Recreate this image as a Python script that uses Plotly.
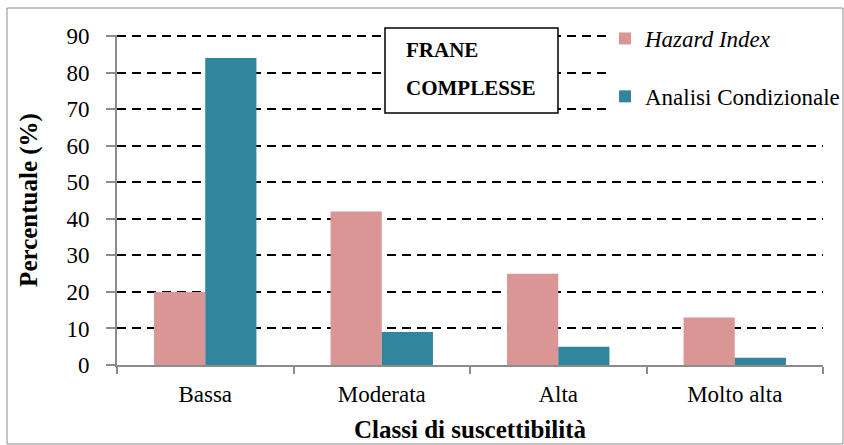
import plotly.graph_objects as go

classi = ["Bassa", "Moderata", "Alta", "Molto alta"]
hazard_index = [20, 42, 25, 13]
analisi_condizionale = [84, 9, 5, 2]
y_ticks = [0, 10, 20, 30, 40, 50, 60, 70, 80, 90]

W, H = 844, 445
L, R, T, B = 117, 21, 35, 80
PW, PH = W - L - R, H - T - B
Y_MAX = 90.3


def px_x(p):
    return (p - L) / PW


def px_y(p):
    return (H - B - p) / PH


serif = "Liberation Serif"

fig = go.Figure()
fig.add_trace(go.Bar(
    x=classi, y=hazard_index, name="<i>Hazard Index</i>",
    marker=dict(color="#D99694", line=dict(width=0)),
    legendgroup="a",
))
fig.add_trace(go.Bar(
    x=classi, y=analisi_condizionale, name="Analisi Condizionale",
    marker=dict(color="#31859C", line=dict(width=0)),
    legendgroup="b",
))

fig.update_layout(
    width=W, height=H,
    margin=dict(l=L, r=R, t=T, b=B, autoexpand=False),
    paper_bgcolor="white", plot_bgcolor="white",
    barmode="group", bargap=0.42, bargroupgap=0,
    font=dict(family=serif, size=23, color="black"),
    showlegend=True,
    legend=dict(
        x=px_x(605), y=px_y(17), xanchor="left", yanchor="top",
        bgcolor="rgba(0,0,0,0)", borderwidth=0,
        font=dict(family=serif, size=23, color="black"),
        tracegroupgap=25, itemwidth=30,
    ),
    xaxis=dict(
        showline=True, linecolor="#8c8c8c", linewidth=2,
        ticks="outside", tickcolor="#8c8c8c", ticklen=7, tickwidth=1.5,
        tickson="boundaries", showgrid=False,
        ticklabelstandoff=7,
        tickfont=dict(family=serif, size=23),
        title=dict(text="<b>Classi di suscettibilità</b>",
                   font=dict(family=serif, size=25), standoff=15),
    ),
    yaxis=dict(
        range=[0, Y_MAX], tickvals=y_ticks,
        showline=True, linecolor="#8c8c8c", linewidth=2,
        ticks="outside", tickcolor="#8c8c8c", ticklen=9, tickwidth=1.5,
        ticklabelstandoff=12,
        showgrid=True, gridcolor="black", gridwidth=2, griddash="9px,6px",
        zeroline=False,
        tickfont=dict(family=serif, size=23),
        title=dict(text="<b>Percentuale (%)</b>",
                   font=dict(family=serif, size=25), standoff=22),
    ),
    shapes=[
        # outer chart frame
        dict(type="rect", xref="paper", yref="paper", layer="below",
             x0=px_x(7), x1=px_x(843), y0=px_y(444), y1=px_y(8),
             line=dict(color="#8c8c8c", width=1), fillcolor="rgba(0,0,0,0)"),
        # white backing behind the legend
        dict(type="rect", xref="paper", yref="paper", layer="above",
             x0=px_x(608), x1=px_x(823), y0=px_y(122), y1=px_y(24),
             line=dict(width=0), fillcolor="white"),
        # label box
        dict(type="rect", xref="paper", yref="paper", layer="above",
             x0=px_x(385), x1=px_x(558), y0=px_y(113), y1=px_y(28),
             line=dict(color="black", width=1.5), fillcolor="white"),
    ],
    annotations=[
        dict(text="<b>FRANE</b>", xref="paper", yref="paper",
             x=px_x(404), y=px_y(50), xanchor="left", yanchor="middle",
             showarrow=False, font=dict(family=serif, size=21)),
        dict(text="<b>COMPLESSE</b>", xref="paper", yref="paper",
             x=px_x(404), y=px_y(88), xanchor="left", yanchor="middle",
             showarrow=False, font=dict(family=serif, size=21)),
    ],
)

fig.write_html("out.html")
